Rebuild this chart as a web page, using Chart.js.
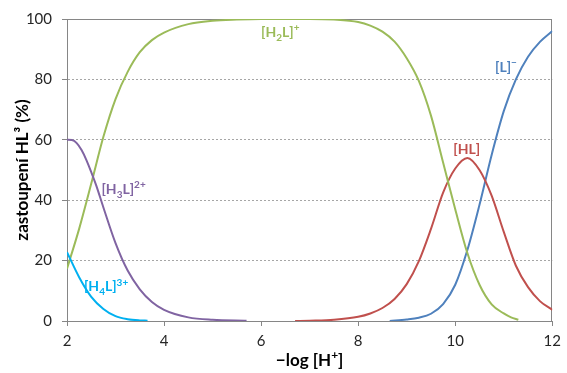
<!DOCTYPE html>
<html>
<head>
<meta charset="utf-8">
<script src="https://cdn.jsdelivr.net/npm/chart.js@4.4.1/dist/chart.umd.min.js"></script>
<style>
    html, body { margin: 0; padding: 0; background: #fff; }
</style>
</head>
<body>
<canvas id="distChart" width="567" height="373"></canvas>
<script>
// pH (-log [H+]) and share of each species in %
const h4lPH  = [2.0, 2.25, 2.5, 2.75, 3.0, 3.25, 3.5, 3.66];
const h4lPct = [22.8, 14.5, 8.0, 4.0, 1.6, 0.6, 0.2, 0.1];

const h3lPH  = [2.0, 2.1, 2.2, 2.3, 2.4, 2.5, 2.6, 2.75, 3.0, 3.25, 3.5, 3.75, 4.0, 4.5, 5.0, 5.7];
const h3lPct = [60.0, 59.9, 58.9, 56.6, 53.3, 49.3, 45.0, 37.6, 25.8, 16.7, 10.5, 6.3, 3.7, 1.2, 0.4, 0.1];

const h2lPH  = [2.0, 2.25, 2.5, 2.75, 3.0, 3.25, 3.5, 3.75, 4.0, 4.5, 5.0, 5.5, 6.0, 7.0, 7.5, 8.0, 8.25, 8.5, 8.75, 9.0, 9.25, 9.5, 9.75, 10.0, 10.25, 10.5, 10.75, 11.0, 11.15, 11.3];
const h2lPct = [17.3, 30.5, 45.5, 61.0, 73.5, 82.5, 89.0, 93.0, 95.5, 98.3, 99.4, 99.8, 100, 100, 99.8, 99.0, 97.8, 95.8, 92.5, 87.0, 79.5, 68.0, 52.5, 37.0, 22.5, 12.0, 5.5, 2.5, 1.2, 0.4];

const hlPH  = [6.7, 7.0, 7.5, 8.0, 8.25, 8.5, 8.75, 9.0, 9.25, 9.5, 9.75, 10.0, 10.25, 10.5, 10.75, 11.0, 11.25, 11.5, 11.75, 12.0];
const hlPct = [0, 0.12, 0.45, 1.4, 2.5, 4.3, 7.3, 12.2, 19.8, 30.5, 42.5, 50.5, 54.0, 50.0, 41.5, 29.5, 18.3, 11.2, 6.5, 3.7];

const lPH  = [8.65, 9.0, 9.25, 9.5, 9.75, 10.0, 10.25, 10.5, 10.75, 11.0, 11.25, 11.5, 11.75, 12.0];
const lPct = [0, 0.5, 1.1, 2.4, 5.6, 12.0, 23.5, 38.5, 55.0, 69.5, 80.0, 87.5, 92.5, 96.0];

const xTicks = [2, 4, 6, 8, 10, 12];
const yTicks = [0, 20, 40, 60, 80, 100];

const cyanCol = "#00b0f0";
const purpleCol = "#8064a2";
const greenCol = "#9bbb59";
const redCol = "#c0504d";
const blueCol = "#4f81bd";
const axisCol = "#868686";
const fontName = "Lato";

function series(xs, ys, color) {
    return {
        data: xs.map((x, i) => ({ x: x, y: ys[i] })),
        borderColor: color,
        borderWidth: 2,
        pointRadius: 0,
        fill: false,
        cubicInterpolationMode: "monotone"
    };
}

// text pieces: 0 normal, -1 subscript, 1 superscript
function drawRich(ctx, parts, x, y, size) {
    parts.forEach(p => {
        const small = p[1] !== 0;
        ctx.font = "bold " + (small ? Math.round(size * 0.68) : size) + "px " + fontName;
        const dy = p[1] === -1 ? size * 0.3 : (p[1] === 1 ? -size * 0.4 : 0);
        ctx.fillText(p[0], x, y + dy);
        x += ctx.measureText(p[0]).width;
    });
}

function richWidth(ctx, parts, size) {
    let w = 0;
    parts.forEach(p => {
        ctx.font = "bold " + (p[1] !== 0 ? Math.round(size * 0.68) : size) + "px " + fontName;
        w += ctx.measureText(p[0]).width;
    });
    return w;
}

const speciesTags = [
    { parts: [["[H", 0], ["2", -1], ["L]", 0], ["+", 1]], color: greenCol, at: [6.0, 94.1] },
    { parts: [["[L]", 0], ["\u2212", 1]], color: blueCol, at: [10.82, 82.6] },
    { parts: [["[HL]", 0]], color: redCol, at: [9.96, 55.3] },
    { parts: [["[H", 0], ["3", -1], ["L]", 0], ["2+", 1]], color: purpleCol, at: [2.71, 42.1] },
    { parts: [["[H", 0], ["4", -1], ["L]", 0], ["3+", 1]], color: cyanCol, at: [2.35, 9.9] }
];

const framePlugin = {
    id: "frame",
    beforeDatasetsDraw(chart) {
        const a = chart.chartArea;
        const ctx = chart.ctx;
        ctx.save();
        ctx.strokeStyle = axisCol;
        ctx.lineWidth = 1;
        ctx.strokeRect(Math.round(a.left) + 0.5, Math.round(a.top) + 0.5, Math.round(a.right - a.left) - 1, Math.round(a.bottom - a.top));
        ctx.restore();
    }
};

const tagPlugin = {
    id: "tags",
    afterDatasetsDraw(chart) {
        const ctx = chart.ctx;
        const sx = chart.scales.x, sy = chart.scales.y;
        ctx.save();
        ctx.textBaseline = "alphabetic";
        ctx.textAlign = "left";
        speciesTags.forEach(t => {
            ctx.fillStyle = t.color;
            drawRich(ctx, t.parts, sx.getPixelForValue(t.at[0]), sy.getPixelForValue(t.at[1]), 14);
        });

        // x axis title
        const title = [["\u2212log [H", 0], ["+", 1], ["]", 0]];
        const w = richWidth(ctx, title, 17);
        ctx.fillStyle = "#000";
        drawRich(ctx, title, (chart.chartArea.left + chart.chartArea.right) / 2 - w / 2, 366, 17);
        ctx.restore();
    }
};

new Chart(distChart, {
    type: "line",
    data: {
        datasets: [
            series(h4lPH, h4lPct, cyanCol),
            series(h3lPH, h3lPct, purpleCol),
            series(h2lPH, h2lPct, greenCol),
            series(hlPH, hlPct, redCol),
            series(lPH, lPct, blueCol)
        ]
    },
    options: {
        responsive: false,
        animation: false,
        layout: { padding: { top: 17, right: 10, left: 0, bottom: 0 } },
        plugins: {
            legend: { display: false },
            tooltip: { enabled: false }
        },
        scales: {
            x: {
                type: "linear",
                min: 2,
                max: 12,
                afterBuildTicks: s => { s.ticks = xTicks.map(v => ({ value: v })); },
                afterFit: s => { s.height = 52; },
                grid: { drawOnChartArea: false, drawTicks: true, tickLength: 5, tickColor: axisCol },
                border: { color: axisCol },
                ticks: { color: "#262626", padding: 6, font: { family: fontName, size: 15 } }
            },
            y: {
                min: 0,
                max: 100,
                afterBuildTicks: s => { s.ticks = yTicks.map(v => ({ value: v })); },
                afterFit: s => { s.width = 67; },
                grid: {
                    color: c => (c.tick.value === 0 || c.tick.value === 100) ? "rgba(0,0,0,0)" : "#a6a6a6",
                    tickLength: 5,
                    tickColor: axisCol,
                    tickBorderDash: []
                },
                border: { color: axisCol, dash: [2, 2] },
                ticks: { color: "#262626", padding: 10, font: { family: fontName, size: 15 } },
                title: {
                    display: true,
                    text: "zastoupení HL³ (%)",
                    color: "#000",
                    padding: { top: 12 },
                    font: { family: fontName, size: 17, weight: "bold" }
                }
            }
        }
    },
    plugins: [framePlugin, tagPlugin]
});
</script>
</body>
</html>
